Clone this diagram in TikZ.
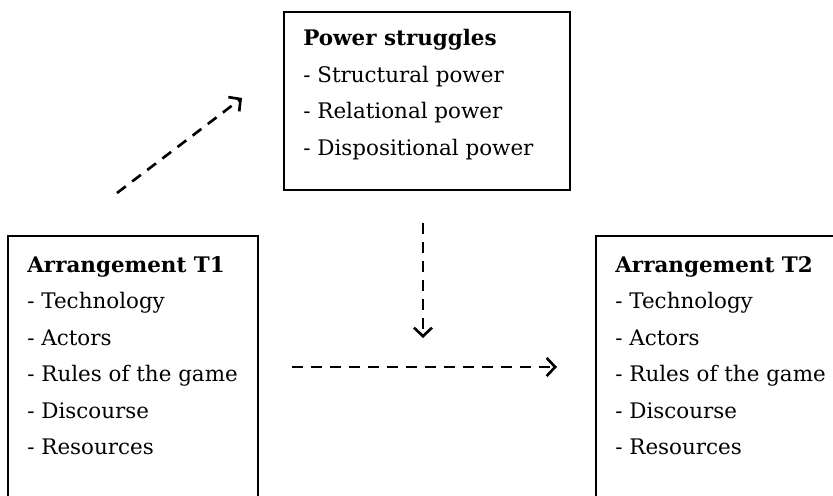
\documentclass[tikz,border=0pt]{standalone}
\usepackage{fontspec}
\setmainfont{DejaVu Serif}
\usetikzlibrary{arrows.meta,positioning}

\begin{document}
\begin{tikzpicture}[x=0.02cm, y=-0.02cm, every node/.style={font=\fontsize{12.2}{20.8}\selectfont}, >={Straight Barb[length=0.17cm,width=0.36cm]},
  frame/.style={draw, line width=1.2pt, anchor=north west, inner sep=0pt},
  list/.style={anchor=north west, inner sep=0pt, align=left},
  flow/.style={->, line width=1.5pt, dash pattern=on 0.22cm off 0.16cm}]
\useasboundingbox (0,0) rectangle (833,496);
\node[frame, minimum width=5.72cm, minimum height=3.56cm] (power) at (283,11) {};
\node[frame, minimum width=5cm, minimum height=6cm] (arrone) at (7,235) {};
\node[frame, minimum width=6cm, minimum height=6cm] (arrtwo) at (595,235) {};
\node[list] (powertxt) at (303,29) {\textbf{Power struggles}\\- Structural power\\- Relational power\\- Dispositional power};
\node[list] (onetxt) at (27,256) {\textbf{Arrangement T1}\\- Technology\\- Actors\\- Rules of the game\\- Discourse\\- Resources};
\node[list] (twotxt) at (615,256) {\textbf{Arrangement T2}\\- Technology\\- Actors\\- Rules of the game\\- Discourse\\- Resources};
\coordinate (upfrom) at (117,193); \coordinate (upto) at (242,98);
\coordinate (downfrom) at (423,223); \coordinate (downto) at (423,338);
\coordinate (acrossfrom) at (292,367); \coordinate (acrossto) at (557,367);
\draw[flow] (upfrom) -- (upto);\draw[flow] (downfrom) -- (downto);\draw[flow] (acrossfrom) -- (acrossto);
\end{tikzpicture}
\end{document}
